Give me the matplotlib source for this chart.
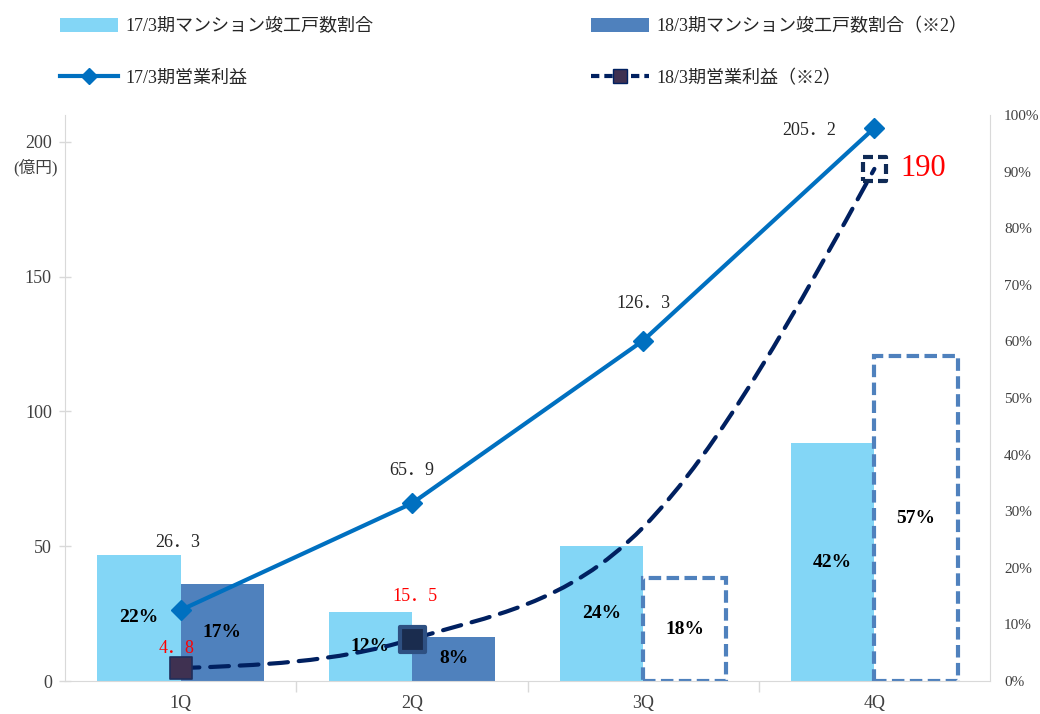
import matplotlib
matplotlib.use("Agg")
import matplotlib.pyplot as plt
from matplotlib.path import Path
from matplotlib.patches import PathPatch, Patch
from matplotlib.lines import Line2D
import numpy as np

plt.rcParams['font.family'] = ['Liberation Serif', 'Noto Sans CJK JP', 'DejaVu Sans']

# ---- data ----
quarters = ['1Q', '2Q', '3Q', '4Q']
share_17 = [0.223, 0.122, 0.239, 0.42]        # 17/3期マンション竣工戸数割合
share_18 = [0.172, 0.078, 0.182, 0.574]       # 18/3期マンション竣工戸数割合（※2）
share_18_planned = [False, False, True, True]  # 3Q/4Q shown as dashed outline
profit_17 = [26.3, 65.9, 126.3, 205.2]        # 17/3期営業利益
profit_18 = [4.8, 15.5, 57.0, 190.0]          # 18/3期営業利益（※2）
profit_18_labeled = [True, True, False, True]

left_ticks = [0, 50, 100, 150, 200]
right_ticks = [i / 10 for i in range(11)]

label_17_bar = '17/3期マンション竣工戸数割合'
label_18_bar = '18/3期マンション竣工戸数割合（※2）'
label_17_line = '17/3期営業利益'
label_18_line = '18/3期営業利益（※2）'

# ---- styles ----
c_light = '#83D6F6'
c_dark = '#4F81BD'
c_line17 = '#0070C0'
c_line18 = '#002060'
grey = '#D9D9D9'
txt = '#404040'

fig = plt.figure(figsize=(10.4, 7.14), dpi=100)
ax = fig.add_axes([65 / 1040, 33 / 714, 925 / 1040, 566 / 714])
ax2 = ax.twinx()
ax.set_zorder(ax2.get_zorder() + 1)
ax.patch.set_visible(False)

x = np.arange(len(quarters))
w = 0.36

# bars on the right (percentage) axis
ax2.bar(x - w / 2, share_17, width=w, color=c_light, zorder=1)
for xi, v, planned in zip(x, share_18, share_18_planned):
    if planned:
        ax2.bar(xi + w / 2, v, width=w, facecolor='white', edgecolor=c_dark,
                linewidth=3, linestyle=(0, (3, 1.3)), zorder=2)
    else:
        ax2.bar(xi + w / 2, v, width=w, color=c_dark, zorder=2)

for xi, v in zip(x, share_17):
    ax2.text(xi - w / 2, v / 2, f'{v:.0%}', ha='center', va='center',
             fontsize=14, fontweight='bold', color='black', zorder=5)
for xi, v in zip(x, share_18):
    ax2.text(xi + w / 2, v / 2, f'{v:.0%}', ha='center', va='center',
             fontsize=14, fontweight='bold', color='black', zorder=5)

ax2.set_ylim(0, 1.0)
ax2.set_yticks(right_ticks)
ax2.set_yticklabels([f'{t:.0%}' for t in right_ticks])
ax2.tick_params(axis='y', length=0, pad=10, labelsize=11, labelcolor=txt)

# 17/3 profit line
ax.plot(x, profit_17, color=c_line17, linewidth=3, marker='D', markersize=10,
        zorder=4, solid_capstyle='round')
offs17 = [(-2, 49), (0, 24), (0, 27), (-47, -2)]
for xi, v, o in zip(x, profit_17, offs17):
    ax.annotate(f'{v:.1f}'.replace('.', '．'), (xi, v), xytext=o, textcoords='offset points',
                ha='center', va='center', fontsize=13, color='#262626', zorder=6)

# 18/3 profit smoothed dashed line (Bezier through the data points)
y = np.array(profit_18, dtype=float)
n = len(y)
T = np.zeros(n)
for i in range(1, n - 1):
    T[i] = (y[i + 1] - y[i - 1]) / 2
T[0] = (3 * (y[1] - y[0]) - T[1]) / 2
T[-1] = (3 * (y[-1] - y[-2]) - T[-2]) / 2
verts = [(x[0], y[0])]
codes = [Path.MOVETO]
for i in range(n - 1):
    verts += [(x[i] + 1 / 3, y[i] + T[i] / 3), (x[i + 1] - 1 / 3, y[i + 1] - T[i + 1] / 3),
              (x[i + 1], y[i + 1])]
    codes += [Path.CURVE4] * 3
ax.add_patch(PathPatch(Path(verts, codes), facecolor='none', edgecolor=c_line18,
                       linewidth=3, linestyle=(0, (4.5, 2.6)), capstyle='round', zorder=4))

ax.scatter([x[0]], [y[0]], marker='s', s=16.5 ** 2, facecolor='#3F3151',
           edgecolor='#1F2D5A', linewidth=1.2, zorder=5)
ax.scatter([x[1]], [y[1]], marker='s', s=18 ** 2, facecolor='#1A2C4E',
           edgecolor='#2E5082', linewidth=3, zorder=5)
ax.scatter([x[3]], [y[3]], marker='s', s=17 ** 2, facecolor='none',
           edgecolor='#0F2A55', linewidth=3, linestyle=(0, (2.4, 1.2)), zorder=5)

offs18 = [(-3, 14), (2, 31), (0, 0), (35, 0)]
sizes18 = [13, 13, 13, 22]
for xi, v, o, s, lab in zip(x, profit_18, offs18, sizes18, profit_18_labeled):
    if not lab:
        continue
    t = f'{v:.0f}' if v >= 100 else f'{v:.1f}'.replace('.', '．')
    ax.annotate(t, (xi, v), xytext=o, textcoords='offset points',
                ha='center', va='center', fontsize=s, color='red', zorder=6)

ax.set_xlim(-0.5, 3.5)
ax.set_ylim(0, 210)
ax.set_yticks(left_ticks)
ax.tick_params(axis='y', direction='inout', length=9, width=1, color=grey,
               labelsize=13, labelcolor=txt, pad=5)
ax.set_xticks(x)
ax.set_xticklabels(quarters)
ax.set_xticks([0.5, 1.5, 2.5], minor=True)
ax.tick_params(axis='x', which='major', length=0, labelsize=13, labelcolor=txt, pad=10)
ax.tick_params(axis='x', which='minor', length=8, width=1, color=grey, direction='out')
ax2.tick_params(axis='x', length=0)

for a in (ax, ax2):
    for s in a.spines.values():
        s.set_color(grey)
    a.spines['top'].set_visible(False)
ax.spines['right'].set_visible(False)
ax2.spines['left'].set_visible(False)
ax2.spines['bottom'].set_visible(False)

fig.text(58 / 1040, 1 - 168 / 714, '(億円)', ha='right', va='center', fontsize=12, color=txt)

handles = [
    Patch(facecolor=c_light),
    Line2D([], [], color=c_line17, linewidth=3, marker='D', markersize=8),
    Patch(facecolor=c_dark),
    Line2D([], [], color=c_line18, linewidth=3, linestyle=(0, (2.0, 1.2)), marker='s',
           markersize=10, markerfacecolor='#3F3151', markeredgecolor=c_line18),
]
labels = [label_17_bar, label_17_line, label_18_bar, label_18_line]
fig.legend(handles, labels, ncol=2, loc='upper left', bbox_to_anchor=(60 / 1040, 1 - 18 / 714),
           frameon=False, fontsize=13, handlelength=3.2, handleheight=0.8, handletextpad=0.4,
           columnspacing=12.1, labelspacing=1.9, borderpad=0, borderaxespad=0, labelcolor='#262626')

fig.savefig('out.png', dpi=100)
